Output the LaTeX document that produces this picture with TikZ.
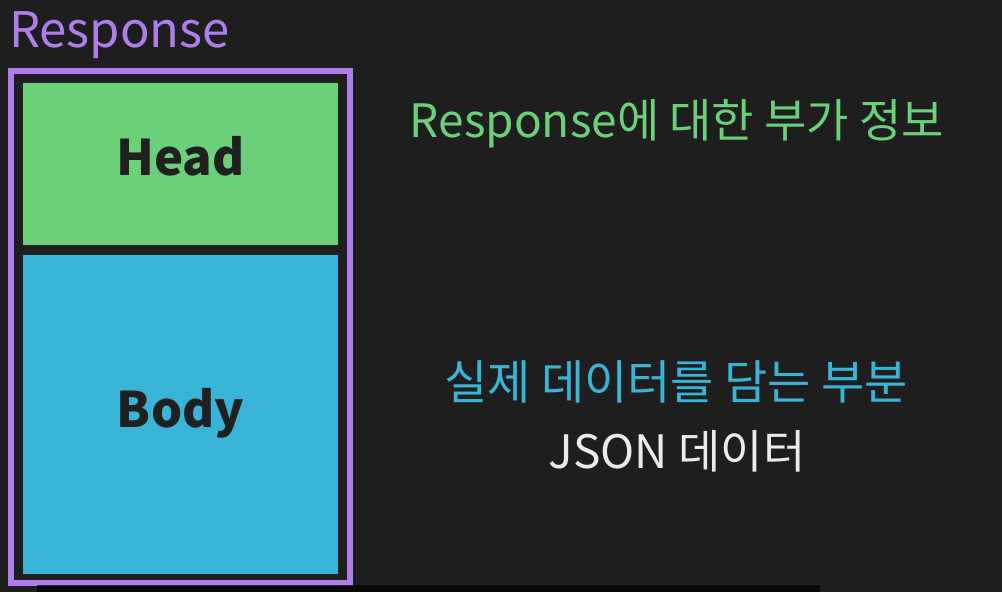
\documentclass[tikz,border=0pt]{standalone}
\usepackage{fontspec}
\setmainfont{Noto Sans CJK KR}
\usetikzlibrary{positioning}
\definecolor{bgdark}{HTML}{1E1E1E}
\definecolor{resppurple}{HTML}{B07EEA}
\definecolor{headgreen}{HTML}{6CD07A}
\definecolor{bodyblue}{HTML}{3AB4D6}
\definecolor{inkdark}{HTML}{202020}
\begin{document}
\begin{tikzpicture}[x=1pt,y=-1pt]
\tikzset{part/.style = {draw=inkdark, line width=1.5pt, minimum width=317pt, inner sep=0pt}}
\tikzset{partname/.style = {font=\fontsize{49}{52}\selectfont\bfseries, text=inkdark, inner sep=0pt}}
\tikzset{note/.style = {font=\fontsize{46}{50}\selectfont, inner sep=0pt}}
\fill[bgdark] (0,0) rectangle (1002,592);
\useasboundingbox (0,0) rectangle (1002,592);

\node[anchor=base west, text=resppurple, font=\fontsize{49}{52}\selectfont, inner sep=0pt] (title) at (9,47) {Response};
\draw[resppurple, line width=5.5pt] (11,71) rectangle (350,583);

\node[part, fill=headgreen, minimum height=164pt] (head) at (180.5,164) {};
\node[part, fill=bodyblue, minimum height=321pt] (body) at (180.5,414.5) {};
\node[partname] (headname) at (180.5,156) {Head};
\node[partname] (bodyname) at (180.5,413) {Body};

\node[note, text=headgreen] (headnote) at (677,124) {Response에 대한 부가 정보};
\node[note, text=bodyblue, font=\fontsize{47}{50}\selectfont] (bodynote) at (676,382) {실제 데이터를 담는 부분};
\node[note, text=white!92!black] (jsonnote) at (677,451) {JSON 데이터};

\fill[black, opacity=0.7] (37,585) rectangle (820,592);
\end{tikzpicture}
\end{document}
